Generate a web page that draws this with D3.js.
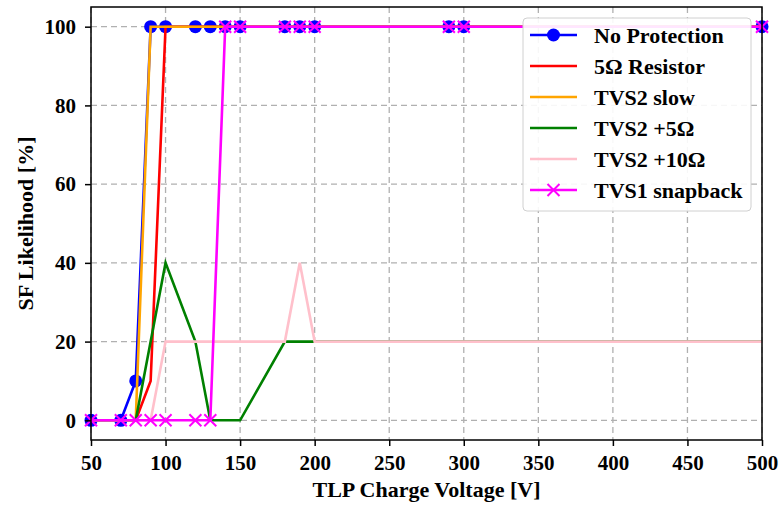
<!DOCTYPE html>
<html>
<head>
<meta charset="utf-8">
<script src="https://cdn.jsdelivr.net/npm/d3@7"></script>
<style>
  body { margin: 0; background: #fff; }
  svg { font-family: "Liberation Serif", "Times New Roman", serif; font-weight: bold; }
</style>
</head>
<body>
<script>
// data
var voltages = [50, 70, 80, 90, 100, 120, 130, 140, 150, 180, 190, 200, 290, 300, 500];
var noProtection = [0, 0, 10, 100, 100, 100, 100, 100, 100, 100, 100, 100, 100, 100, 100];
var resistor5 = [0, 0, 0, 10, 100, 100, 100, 100, 100, 100, 100, 100, 100, 100, 100];
var tvs2Slow = [0, 0, 0, 100, 100, 100, 100, 100, 100, 100, 100, 100, 100, 100, 100];
var tvs2Plus5 = [0, 0, 0, 20, 40, 20, 0, 0, 0, 20, 20, 20, 20, 20, 20];
var tvs2Plus10 = [0, 0, 0, 0, 20, 20, 20, 20, 20, 20, 40, 20, 20, 20, 20];
var tvs1Snapback = [0, 0, 0, 0, 0, 0, 0, 100, 100, 100, 100, 100, 100, 100, 100];

var xTicks = [50, 100, 150, 200, 250, 300, 350, 400, 450, 500];
var yTicks = [0, 20, 40, 60, 80, 100];

var series = [
  {name: "No Protection", values: noProtection, color: "#0000ff", marker: "o"},
  {name: "5\u03A9 Resistor", values: resistor5, color: "#ff0000", marker: null},
  {name: "TVS2 slow", values: tvs2Slow, color: "#ffa500", marker: null},
  {name: "TVS2 +5\u03A9", values: tvs2Plus5, color: "#008000", marker: null},
  {name: "TVS2 +10\u03A9", values: tvs2Plus10, color: "#ffc0cb", marker: null},
  {name: "TVS1 snapback", values: tvs1Snapback, color: "#ff00ff", marker: "x"}
];

// margin
var W = 781, H = 506;
var margin = {top: 7, right: 19, bottom: 66, left: 91},
    width = W - margin.left - margin.right,
    height = H - margin.top - margin.bottom;

var svg = d3.select("body").append("svg")
    .attr("width", W)
    .attr("height", H);

var g = svg.append("g")
    .attr("transform", "translate(" + margin.left + "," + margin.top + ")");

var x = d3.scaleLinear().domain([50, 500]).range([0, width]);
var y = d3.scaleLinear().domain([-5, 105]).range([height, 0]);

// grid
g.append("g").selectAll("line.gx")
  .data(xTicks).enter().append("line")
    .attr("x1", function(d) { return x(d); })
    .attr("x2", function(d) { return x(d); })
    .attr("y1", 0).attr("y2", height)
    .attr("stroke", "#b0b0b0").attr("stroke-width", 1.3)
    .attr("stroke-dasharray", "6,4");

g.append("g").selectAll("line.gy")
  .data(yTicks).enter().append("line")
    .attr("y1", function(d) { return y(d); })
    .attr("y2", function(d) { return y(d); })
    .attr("x1", 0).attr("x2", width)
    .attr("stroke", "#b0b0b0").attr("stroke-width", 1.3)
    .attr("stroke-dasharray", "6,4");

// lines
var line = d3.line()
    .x(function(d, i) { return x(voltages[i]); })
    .y(function(d) { return y(d); });

svg.append("defs").append("clipPath").attr("id", "clip")
  .append("rect").attr("x", -10).attr("y", -10).attr("width", width + 20).attr("height", height + 20);

var plot = g.append("g").attr("clip-path", "url(#clip)");

series.forEach(function(s) {
  plot.append("path")
      .attr("d", line(s.values))
      .attr("fill", "none")
      .attr("stroke", s.color)
      .attr("stroke-width", 2.6)
      .attr("stroke-linejoin", "miter");

  if (s.marker === "o") {
    plot.selectAll(null).data(s.values).enter().append("circle")
        .attr("cx", function(d, i) { return x(voltages[i]); })
        .attr("cy", function(d) { return y(d); })
        .attr("r", 6.5)
        .attr("fill", s.color);
  } else if (s.marker === "x") {
    plot.selectAll(null).data(s.values).enter().append("path")
        .attr("transform", function(d, i) { return "translate(" + x(voltages[i]) + "," + y(d) + ")"; })
        .attr("d", "M-6,-6L6,6M-6,6L6,-6")
        .attr("stroke", s.color)
        .attr("stroke-width", 2);
  }
});

// axes
var xAxis = g.append("g")
    .attr("transform", "translate(0," + height + ")")
    .call(d3.axisBottom(x).tickValues(xTicks).tickSize(6).tickPadding(9));
var yAxis = g.append("g")
    .call(d3.axisLeft(y).tickValues(yTicks).tickSize(6).tickPadding(9));

[xAxis, yAxis].forEach(function(a) {
  a.select(".domain").remove();
  a.selectAll("line").attr("stroke", "#000").attr("stroke-width", 1.5);
  a.selectAll("text")
    .attr("fill", "#000")
    .style("font-size", "21px")
    .style("font-family", "'Liberation Serif', serif")
    .style("font-weight", "bold");
});

// frame
g.append("rect")
    .attr("width", width).attr("height", height)
    .attr("fill", "none").attr("stroke", "#000").attr("stroke-width", 1.5);

// axis labels
svg.append("text")
    .attr("x", margin.left + width / 2)
    .attr("y", 497)
    .attr("text-anchor", "middle")
    .style("font-size", "22px")
    .text("TLP Charge Voltage [V]");

svg.append("text")
    .attr("transform", "translate(33," + (margin.top + height / 2) + ") rotate(-90)")
    .attr("text-anchor", "middle")
    .style("font-size", "22px")
    .text("SF Likelihood [%]");

// legend
var legend = svg.append("g").attr("transform", "translate(523,18)");
legend.append("rect")
    .attr("width", 228).attr("height", 193)
    .attr("rx", 4)
    .attr("fill", "#fff").attr("fill-opacity", 0.9)
    .attr("stroke", "#d0d0d0").attr("stroke-width", 1);

var item = legend.selectAll("g.item")
  .data(series).enter().append("g")
    .attr("transform", function(d, i) { return "translate(0," + (17 + i * 31) + ")"; });

item.append("line")
    .attr("x1", 7).attr("x2", 54)
    .attr("stroke", function(d) { return d.color; })
    .attr("stroke-width", 2.6);

item.filter(function(d) { return d.marker === "o"; }).append("circle")
    .attr("cx", 30.5).attr("r", 6.5)
    .attr("fill", function(d) { return d.color; });

item.filter(function(d) { return d.marker === "x"; }).append("path")
    .attr("transform", "translate(30.5,0)")
    .attr("d", "M-6,-6L6,6M-6,6L6,-6")
    .attr("stroke", function(d) { return d.color; })
    .attr("stroke-width", 2);

item.append("text")
    .attr("x", 71)
    .attr("dy", "0.35em")
    .style("font-size", "22px")
    .text(function(d) { return d.name; });
</script>
</body>
</html>
